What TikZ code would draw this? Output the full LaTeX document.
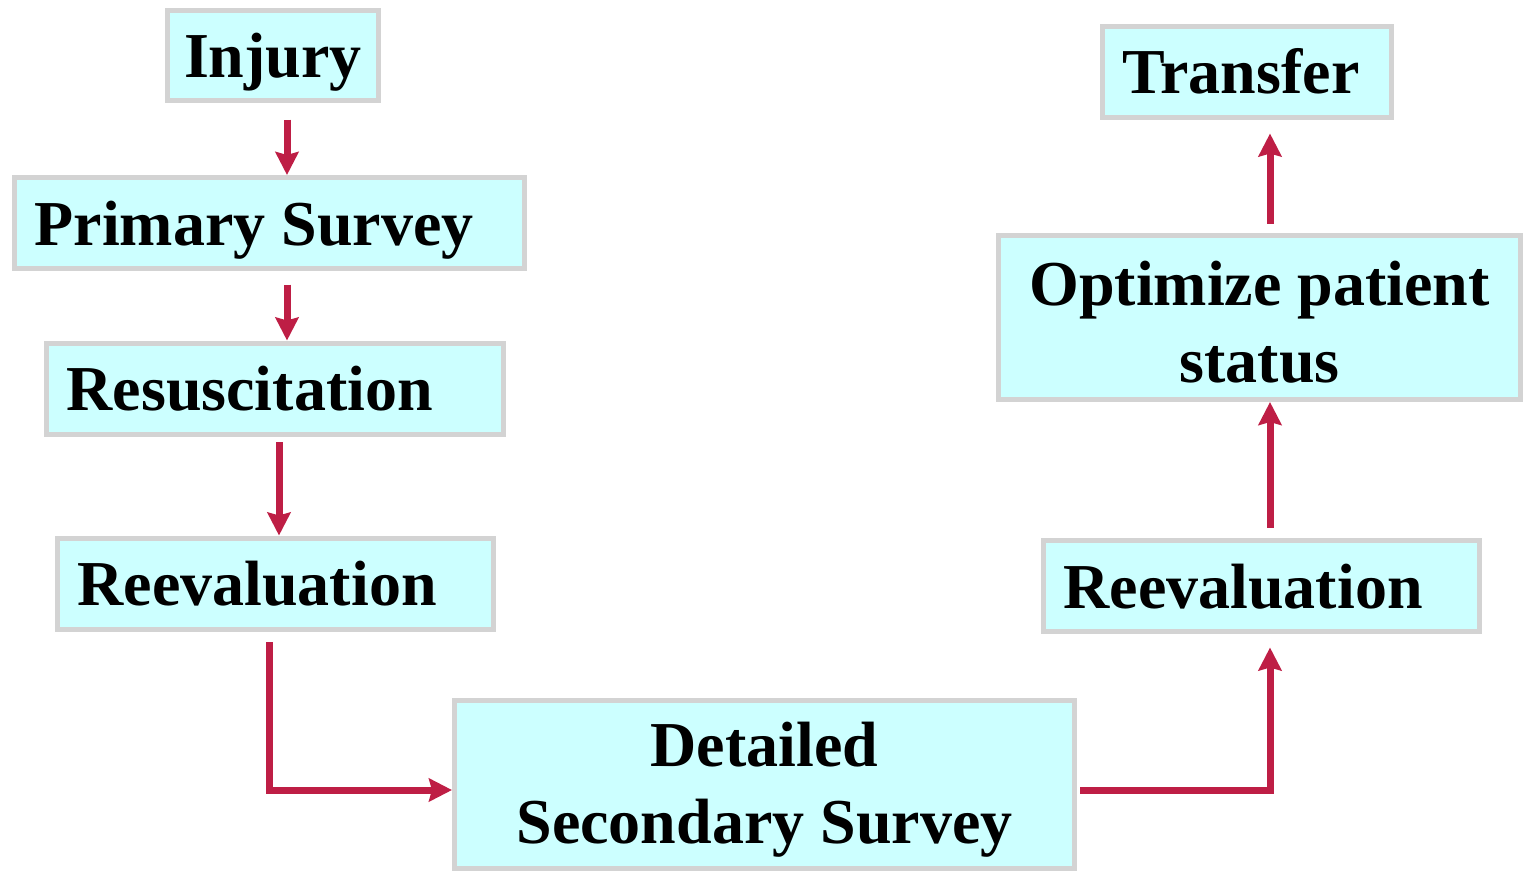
\documentclass[tikz,border=0pt]{standalone}
\usepackage{fontspec}
\setmainfont{Liberation Serif}
\usepackage{xcolor}
\usepackage{tikz}
\usetikzlibrary{arrows.meta}
\usetikzlibrary{positioning}

\definecolor{boxfill}{HTML}{CCFFFF}
\definecolor{boxline}{HTML}{D3D3D3}
\definecolor{arrowred}{HTML}{BE1E45}

\begin{document}
\begin{tikzpicture}[x=0.5pt,y=-0.5pt,
  box/.style={draw=boxline, fill=boxfill, line width=2.5pt, inner ysep=0pt,
    font=\fontsize{32}{38.5}\selectfont\bfseries},
  leftbox/.style={box, align=flush left, inner xsep=10pt, minimum height=45.5pt,
    text height=28pt, text depth=6pt},
  flow/.style={draw=arrowred, line width=3.5pt,
    -{Stealth[length=11.5pt,width=11.5pt,inset=1.5pt]}}]
\useasboundingbox (0,0) rectangle (1525,874);

% left column
\node[box, minimum width=105.5pt, minimum height=45pt, text height=28pt, text depth=6pt] (injury) at (273,55.5) {Injury};
\node[leftbox, text width=235pt] (primary) at (269.5,223) {Primary Survey};
\node[leftbox, text width=208.5pt] (resusc) at (275,388.5) {Resuscitation};
\node[leftbox, text width=198pt] (reevalL) at (275.5,583.5) {Reevaluation};

% bottom
\node[box, align=center, minimum width=310pt, minimum height=84pt] (detailed) at (764.5,784.5) {\rule{0pt}{27pt}Detailed\\Secondary Survey};

% right column
\node[leftbox, text width=198pt] (reevalR) at (1261.5,586) {Reevaluation};
\node[box, align=center, minimum width=261pt, minimum height=82pt] (optimize) at (1259.5,317.5) {\rule{0pt}{27pt}Optimize patient\\status};
\node[leftbox, text width=124.5pt] (transfer) at (1247,71.5) {Transfer};

\draw[flow] ([xshift=7pt,yshift=-8.25pt]injury.south) coordinate (a1) -- (a1 |- primary.north);
\draw[flow] ([xshift=8.75pt,yshift=-6.75pt]primary.south) coordinate (a2) -- (a2 |- resusc.north);
\draw[flow] ([xshift=2pt,yshift=-2.75pt]resusc.south) coordinate (a3) -- (a3 |- reevalL.north);
\draw[flow] ([xshift=-3.25pt,yshift=-5.25pt]reevalL.south) |- ([yshift=-2.75pt]detailed.west);
\draw[flow] ([xshift=1.5pt,yshift=-2.75pt]detailed.east) -| ([xshift=4.25pt,yshift=-6.75pt]reevalR.south);
\draw[flow] ([xshift=4.25pt,yshift=5.25pt]reevalR.north) coordinate (a6) -- (a6 |- optimize.south);
\draw[flow, shorten >=7pt] ([xshift=5.25pt,yshift=4.75pt]optimize.north) coordinate (a7) -- (a7 |- transfer.south);

\end{tikzpicture}
\end{document}
